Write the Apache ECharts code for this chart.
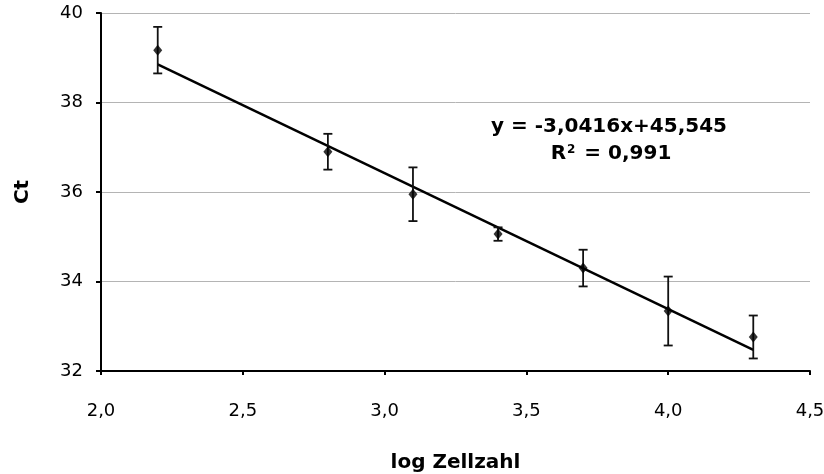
<!DOCTYPE html>
<html>
<head>
<meta charset="utf-8">
<script src="https://cdn.jsdelivr.net/npm/echarts@6/dist/echarts.min.js"></script>
<style>
html,body{margin:0;padding:0;background:#fff;}
#chart{width:824px;height:474px;}
</style>
</head>
<body>
<div id="chart"></div>
<script>
// Data
const logCells = [2.2, 2.8, 3.1, 3.4, 3.7, 4.0, 4.3];
const ctMeans  = [39.17, 36.90, 35.95, 35.06, 34.30, 33.34, 32.76];
const ctErrors = [0.52, 0.40, 0.60, 0.15, 0.41, 0.77, 0.48];
const trendX   = [2.2, 4.3];
const trendY   = [38.85, 32.47];
const equationText = 'y = -3,0416x+45,545';
const r2Value = '0,991';
const xAxisTitle = 'log Zellzahl';
const yAxisTitle = 'Ct';

const FONT = '"DejaVu Sans", Verdana, sans-serif';

const points = logCells.map((x, i) => [x, ctMeans[i]]);
const errData = logCells.map((x, i) => [x, ctMeans[i] - ctErrors[i], ctMeans[i] + ctErrors[i]]);
const trendData = trendX.map((x, i) => [x, trendY[i]]);

const chart = echarts.init(document.getElementById('chart'));
chart.setOption({
  animation: false,
  backgroundColor: '#fff',
  grid: {left: 101, right: 14, top: 13, bottom: 103, containLabel: false, outerBoundsMode: 'none'},
  xAxis: {
    type: 'value', min: 2, max: 4.5, interval: 0.5,
    name: xAxisTitle, nameLocation: 'middle', nameGap: 82,
    nameTextStyle: {fontFamily: FONT, fontWeight: 'bold', fontSize: 20, color: '#000'},
    axisLine: {show: true, lineStyle: {color: '#000', width: 2}},
    axisTick: {show: true, inside: false, length: 4, lineStyle: {color: '#000', width: 2}},
    axisLabel: {fontFamily: FONT, fontSize: 18, color: '#000', margin: 31,
      formatter: v => v.toFixed(1).replace('.', ',')},
    splitLine: {show: false}
  },
  yAxis: {
    type: 'value', min: 32, max: 40, interval: 2,
    name: yAxisTitle, nameLocation: 'middle', nameGap: 68,
    nameTextStyle: {fontFamily: FONT, fontWeight: 'bold', fontSize: 20, color: '#000'},
    axisLine: {show: true, lineStyle: {color: '#000', width: 2}},
    axisTick: {show: true, inside: false, length: 5, lineStyle: {color: '#000', width: 2}},
    axisLabel: {fontFamily: FONT, fontSize: 18, color: '#000', margin: 18},
    splitLine: {show: true, lineStyle: {color: '#b4b4b4', width: 1}}
  },
  series: [
    {
      type: 'line', data: trendData, showSymbol: false, symbol: 'none',
      lineStyle: {color: '#000', width: 2.5}, z: 3
    },
    {
      type: 'custom', data: errData, z: 4,
      renderItem: function (params, api) {
        const x = api.value(0);
        const lo = api.coord([x, api.value(1)]);
        const hi = api.coord([x, api.value(2)]);
        const w = 4.5;
        const st = {stroke: '#111', lineWidth: 1.8};
        return {type: 'group', children: [
          {type: 'line', shape: {x1: lo[0], y1: lo[1], x2: hi[0], y2: hi[1]}, style: st},
          {type: 'line', shape: {x1: hi[0] - w, y1: hi[1], x2: hi[0] + w, y2: hi[1]}, style: st},
          {type: 'line', shape: {x1: lo[0] - w, y1: lo[1], x2: lo[0] + w, y2: lo[1]}, style: st}
        ]};
      }
    },
    {
      type: 'scatter', data: points, symbol: 'diamond', symbolSize: [9, 11],
      itemStyle: {color: '#000'}, z: 5
    }
  ],
  graphic: [
    {type: 'text', x: 609, y: 127, z: 10,
      style: {text: equationText, fill: '#000', font: 'bold 20px ' + FONT, align: 'center', verticalAlign: 'middle'}},
    {type: 'text', x: 611, y: 154, z: 10,
      style: {text: 'R{sup|2} = ' + r2Value, fill: '#000', font: 'bold 20px ' + FONT,
        align: 'center', verticalAlign: 'middle',
        rich: {sup: {fontSize: 12, fontWeight: 'bold', fontFamily: FONT, fill: '#000', verticalAlign: 'top', padding: [0, 2, 0, 1]}}}}
  ]
});
</script>
</body>
</html>
